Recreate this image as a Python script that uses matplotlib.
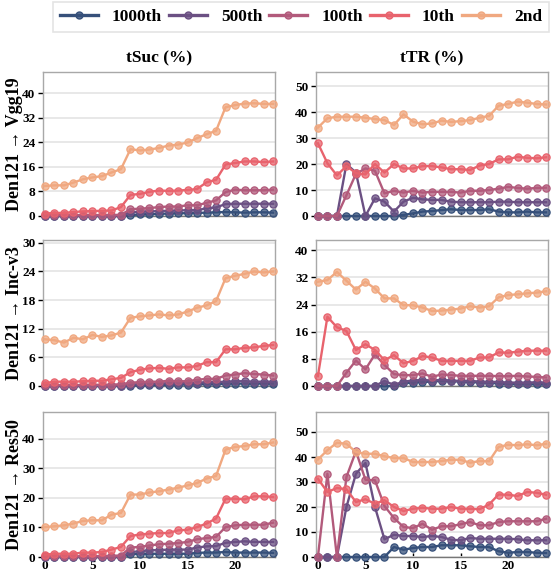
import matplotlib
matplotlib.use("Agg")
import matplotlib.pyplot as plt
from matplotlib.colors import to_rgba
from matplotlib.lines import Line2D
import numpy as np

plt.rcParams['font.family'] = ['Liberation Serif', 'DejaVu Serif']
plt.rcParams['font.weight'] = 'bold'

steps = np.arange(25)
series_names = ['1000th', '500th', '100th', '10th', '2nd']
colors = ['#36507a', '#6b5083', '#b25a7b', '#e8636d', '#f0a880']

row_labels = ['Den121 → Vgg19', 'Den121 → Inc-v3', 'Den121 → Res50']
col_titles = ['tSuc (%)', 'tTR (%)']

# Den121 -> Vgg19, tSuc
vgg_suc = [
    [0, 0, 0, 0, 0, 0, 0, 0, 0, 0.3, 0.5, 0.6, 0.7, 0.8, 0.9, 0.9, 1.0, 1.1, 1.2, 1.3, 1.2, 1.1, 1.2, 1.2, 1.1],
    [0, 0, 0, 0, 0, 0, 0, 0, 0, 1.2, 1.4, 1.5, 1.6, 1.7, 1.8, 1.9, 1.9, 2.5, 2.8, 3.9, 4.0, 4.0, 4.0, 4.0, 4.0],
    [0.3, 0.3, 0.3, 0.3, 0.3, 0.3, 0.3, 0.3, 0.4, 2.2, 2.4, 2.6, 2.9, 3.1, 3.1, 3.5, 3.5, 4.3, 5.1, 7.8, 8.6, 8.4, 8.4, 8.4, 8.6],
    [0.8, 1.0, 1.0, 1.3, 1.5, 1.6, 1.7, 1.8, 2.9, 6.9, 7.2, 7.9, 8.3, 8.2, 8.3, 8.5, 8.8, 11.0, 11.8, 16.8, 17.3, 17.8, 17.8, 17.6, 17.8],
    [9.8, 10.0, 10.0, 10.9, 12.0, 12.6, 13.0, 14.2, 15.3, 21.8, 21.4, 21.7, 22.2, 23.0, 23.3, 24.0, 25.4, 26.7, 27.8, 35.5, 36.2, 36.7, 36.8, 36.6, 36.6],
]
# Den121 -> Vgg19, tTR
vgg_tr = [
    [0, 0, 0, 0, 0, 0, 0, 0, 0, 0.4, 1.0, 1.7, 1.9, 2.3, 2.6, 2.3, 2.3, 2.3, 2.6, 1.7, 1.4, 1.4, 1.7, 1.4, 1.4],
    [0, 0, 0, 20.0, 16.7, 0, 6.8, 5.5, 1.7, 5.5, 7.0, 6.4, 6.2, 6.2, 5.5, 5.3, 5.3, 5.3, 5.3, 5.5, 5.5, 5.3, 5.3, 5.3, 5.3],
    [0, 0, 0, 8.0, 16.2, 18.3, 17.4, 8.7, 9.7, 9.0, 9.7, 9.0, 9.3, 9.3, 9.3, 9.0, 9.7, 9.7, 10.0, 10.5, 11.2, 10.8, 10.5, 10.8, 10.9],
    [28.0, 20.3, 15.6, 19.2, 16.5, 16.0, 20.0, 16.7, 20.0, 18.3, 18.3, 19.2, 19.2, 18.7, 18.0, 18.0, 17.7, 19.4, 20.0, 21.8, 21.8, 22.8, 22.4, 22.2, 22.6],
    [34.0, 37.6, 38.2, 38.2, 38.2, 37.8, 37.3, 36.9, 35.0, 39.1, 36.3, 35.3, 35.6, 36.7, 36.2, 36.5, 36.9, 37.8, 38.5, 42.4, 43.1, 44.0, 43.6, 43.1, 42.9],
]
# Den121 -> Inc-v3, tSuc
inc_suc = [
    [0, 0, 0, 0, 0, 0, 0, 0, 0, 0.1, 0.15, 0.2, 0.2, 0.25, 0.3, 0.3, 0.35, 0.4, 0.4, 0.5, 0.5, 0.5, 0.5, 0.5, 0.5],
    [0, 0, 0, 0, 0, 0, 0, 0, 0.1, 0.3, 0.4, 0.5, 0.5, 0.6, 0.6, 0.6, 0.7, 0.8, 0.8, 0.9, 1.0, 1.0, 0.9, 0.9, 0.9],
    [0.2, 0.2, 0.2, 0.2, 0.2, 0.25, 0.25, 0.3, 0.35, 0.7, 0.8, 0.9, 0.9, 1.1, 1.0, 1.0, 1.3, 1.5, 1.5, 2.2, 2.4, 2.7, 2.5, 2.4, 2.2],
    [0.6, 0.9, 0.9, 0.9, 1.0, 1.1, 1.1, 1.4, 1.7, 2.9, 3.4, 3.7, 3.8, 3.6, 3.9, 3.9, 4.2, 5.0, 5.0, 7.7, 7.7, 8.0, 8.1, 8.4, 8.6],
    [9.8, 9.6, 9.1, 10.1, 9.8, 10.7, 10.3, 10.6, 11.2, 14.3, 14.6, 14.8, 15.0, 14.8, 15.0, 15.6, 16.4, 16.9, 17.8, 22.6, 23.1, 23.5, 24.0, 23.8, 24.0],
]
# Den121 -> Inc-v3, tTR
inc_tr = [
    [0, 0, 0, 0, 0, 0, 0, 0, 0, 0.8, 1.0, 1.2, 1.3, 1.5, 1.4, 1.3, 1.2, 1.0, 1.0, 0.7, 0.6, 0.5, 0.5, 0.5, 0.5],
    [0, 0, 0, 0, 0, 0, 0, 1.5, 0.3, 1.3, 1.6, 1.8, 1.6, 1.8, 1.6, 1.5, 1.5, 1.3, 1.2, 1.2, 1.0, 1.0, 1.0, 1.1, 1.0],
    [0, 0, 0, 3.9, 7.5, 4.9, 9.3, 6.2, 3.5, 3.2, 3.2, 3.7, 2.7, 3.4, 3.2, 3.0, 3.0, 3.0, 3.0, 2.9, 2.9, 3.0, 2.8, 2.7, 2.5],
    [2.9, 20.4, 17.3, 16.2, 10.6, 12.3, 10.6, 7.6, 9.1, 6.7, 7.4, 8.8, 8.4, 7.4, 7.4, 7.4, 7.4, 8.4, 8.4, 9.9, 9.8, 10.1, 10.4, 10.4, 10.4],
    [30.7, 31.2, 33.6, 31.0, 28.4, 30.7, 28.7, 25.8, 25.8, 23.8, 23.8, 23.1, 22.1, 22.2, 22.5, 22.8, 23.5, 23.1, 23.5, 26.1, 26.8, 27.0, 27.3, 27.5, 27.9],
]
# Den121 -> Res50, tSuc
res_suc = [
    [0, 0, 0, 0, 0, 0, 0, 0, 0, 0.9, 1.1, 1.1, 1.1, 1.1, 1.1, 1.1, 1.4, 1.5, 1.5, 1.7, 1.5, 1.5, 1.5, 1.5, 1.4],
    [0, 0, 0, 0, 0, 0, 0, 0, 0, 1.7, 1.9, 2.3, 2.3, 2.5, 2.5, 2.5, 3.2, 3.6, 3.7, 4.8, 5.1, 5.3, 5.1, 5.1, 5.1],
    [0.2, 0.2, 0.2, 0.2, 0.3, 0.3, 0.3, 0.4, 0.5, 3.2, 3.4, 3.9, 4.3, 4.5, 4.7, 5.1, 6.0, 6.4, 6.8, 10.1, 10.7, 10.9, 10.9, 10.9, 11.6],
    [0.8, 1.1, 1.1, 1.1, 1.5, 1.5, 1.7, 2.5, 3.4, 7.1, 7.6, 7.9, 8.1, 8.1, 9.0, 9.2, 10.1, 11.3, 13.0, 19.7, 19.7, 19.5, 20.5, 20.5, 20.3],
    [10.1, 10.4, 10.7, 11.3, 12.2, 12.4, 12.4, 14.3, 14.9, 21.1, 21.1, 21.8, 22.2, 22.8, 23.4, 24.2, 25.0, 26.5, 27.4, 36.3, 37.2, 37.5, 38.1, 38.1, 38.7],
]
# Den121 -> Res50, tTR
res_tr = [
    [0, 0, 0, 0, 0, 0, 0, 0, 4.0, 2.9, 3.6, 4.0, 4.0, 4.7, 4.7, 4.7, 4.3, 4.0, 4.0, 2.3, 1.7, 2.0, 2.0, 1.7, 1.6],
    [0, 0, 0, 20.0, 33.3, 37.6, 20.0, 7.1, 8.9, 8.4, 8.4, 8.0, 8.4, 8.0, 6.9, 6.7, 7.6, 7.3, 7.3, 7.3, 7.3, 7.1, 6.7, 6.7, 6.7],
    [0, 33.3, 0, 32.0, 42.3, 30.9, 30.7, 20.4, 15.6, 12.0, 11.6, 13.3, 10.9, 12.3, 12.3, 13.1, 14.0, 12.7, 12.7, 14.0, 14.3, 14.3, 14.3, 14.3, 15.3],
    [31.3, 26.0, 27.6, 27.1, 22.0, 23.1, 21.3, 22.7, 20.0, 18.4, 19.3, 19.7, 19.3, 19.3, 20.0, 19.3, 19.3, 19.1, 21.0, 25.0, 24.9, 24.4, 26.0, 25.7, 24.9],
    [39.0, 42.7, 45.7, 45.3, 42.0, 41.3, 41.3, 40.3, 39.6, 39.6, 38.0, 38.0, 38.0, 38.4, 38.9, 38.9, 37.7, 38.4, 38.3, 44.0, 44.9, 44.7, 45.1, 44.7, 45.3],
]

panels = [[vgg_suc, vgg_tr], [inc_suc, inc_tr], [res_suc, res_tr]]
yticks = [[[0, 8, 16, 24, 32, 40], [0, 10, 20, 30, 40, 50]],
          [[0, 6, 12, 18, 24, 30], [0, 8, 16, 24, 32, 40]],
          [[0, 10, 20, 30, 40], [0, 10, 20, 30, 40, 50]]]
ytops = [[47, 55.4], [30.6, 43], [49, 58]]

fig = plt.figure(figsize=(5.52, 5.72), dpi=100)

lefts = [43 / 552, 316 / 552]
width = 232 / 552
rows_px = [(72, 216), (240, 386), (412, 557)]

for r in range(3):
    top, bot = rows_px[r]
    for c in range(2):
        ax = fig.add_axes([lefts[c], 1 - bot / 572, width, (bot - top) / 572])
        for k, vals in enumerate(panels[r][c]):
            ax.plot(steps, vals, '-o', color=colors[k], lw=1.7, ms=5.2,
                    mfc=to_rgba(colors[k], 0.75), mec=colors[k], mew=0.9,
                    clip_on=False, zorder=3 + k)
        ax.set_xlim(-0.2, 24.2)
        ax.set_ylim(0, ytops[r][c])
        ax.set_yticks(yticks[r][c])
        ax.set_xticks([0, 5, 10, 15, 20])
        ax.grid(axis='y', color='#e6e6e6', lw=1.3)
        ax.set_axisbelow(True)
        for s in ax.spines.values():
            s.set_color('#a8a8a8')
            s.set_linewidth(1.0)
        ax.spines['bottom'].set_color('#777777')
        ax.tick_params(axis='y', direction='out', length=3.5, width=1, color='black',
                       labelsize=9.5, pad=2)
        ax.tick_params(axis='x', direction='in', length=3, width=1, color='black',
                       labelsize=9.5, pad=2)
        for lab in ax.get_yticklabels() + ax.get_xticklabels():
            lab.set_fontweight('bold')
        if r < 2:
            ax.set_xticklabels([])
        if r == 0:
            ax.set_title(col_titles[c], fontsize=12.5, fontweight='bold', pad=7)
        if c == 0:
            fig.text(0.027, 1 - (top + bot) / 2 / 572, row_labels[r], rotation=90,
                     ha='center', va='center', fontsize=13, fontweight='bold')

handles = [Line2D([], [], color=colors[k], lw=2.4, marker='o', ms=5,
                  mfc=to_rgba(colors[k], 0.8), mec=colors[k]) for k in range(5)]
leg = fig.legend(handles, series_names, loc='upper center', bbox_to_anchor=(0.545, 1.0),
                 ncol=5, frameon=True, fancybox=False, handlelength=2.2,
                 handletextpad=0.8, columnspacing=0.4, borderpad=0.4, borderaxespad=0.1,
                 edgecolor='#dddddd', prop={'weight': 'bold', 'size': 12.5})
leg.get_frame().set_linewidth(1.2)

fig.savefig('out.png', dpi=100)
